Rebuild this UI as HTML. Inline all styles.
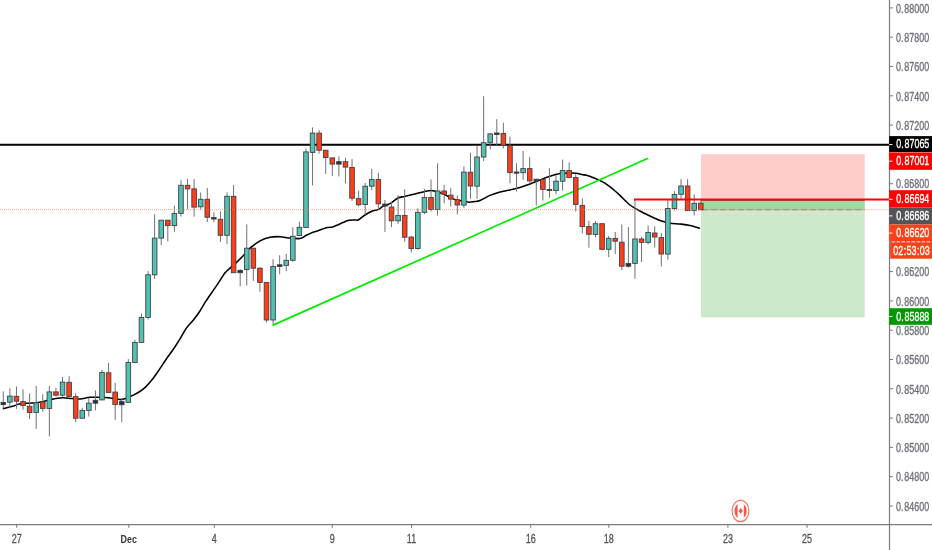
<!DOCTYPE html>
<html><head><meta charset="utf-8"><title>EURGBP chart</title>
<style>
html,body{margin:0;padding:0;background:#fff;overflow:hidden;}
svg{display:block;will-change:transform;}
.w{stroke:#6f7177;stroke-width:1;}
.b{stroke:#3f4147;stroke-width:0.9;}
.tk{stroke:#787b86;stroke-width:1;}
.pl{font-family:"Liberation Sans",Arial,sans-serif;font-size:12px;fill:#6f727c;stroke:#6f727c;stroke-width:0.35px;}
.tl{font-family:"Liberation Sans",Arial,sans-serif;font-size:12px;fill:#50535c;stroke:#50535c;stroke-width:0.3px;text-anchor:middle;}
.tlb{font-family:"Liberation Sans",Arial,sans-serif;font-size:11.3px;fill:#363940;font-weight:bold;text-anchor:middle;}
</style></head>
<body>
<svg width="932" height="550" viewBox="0 0 932 550">
<rect width="932" height="550" fill="#ffffff"/>
<!-- position tool -->
<rect x="701" y="154.2" width="163.7" height="45.1" fill="#ffcccc"/>
<rect x="701" y="199.3" width="163.7" height="118.1" fill="#cde9cb"/>
<rect x="701" y="200.3" width="163.7" height="9.3" fill="#a2d9a0"/>
<!-- horizontal black line -->
<line x1="0" y1="144.8" x2="890" y2="144.8" stroke="#000" stroke-width="2"/>
<line x1="701" y1="209.7" x2="864.7" y2="209.7" stroke="#c4aaa4" stroke-width="1.3"/>
<line x1="701" y1="209.7" x2="864.7" y2="209.7" stroke="#d8524a" stroke-width="1.3" stroke-dasharray="1 1 1 1 1 4" stroke-dashoffset="-1.5"/>
<line x1="864.7" y1="209.7" x2="890" y2="209.7" stroke="#ff7a55" stroke-width="1" stroke-dasharray="1 1" opacity="0.7"/>
<line x1="701" y1="200.5" x2="864.7" y2="200.5" stroke="#6e6e6e" stroke-width="1"/>
<!-- MA -->
<path d="M2.8,408.8 C4.45,408.38 10,407.08 12.7,406.3 C15.4,405.52 16.88,404.6 19,404.1 C21.12,403.6 23.27,403.47 25.4,403.3 C27.53,403.13 29.67,403.25 31.8,403.1 C33.93,402.95 36.08,402.72 38.2,402.4 C40.32,402.08 42.38,401.68 44.5,401.2 C46.62,400.72 48.77,400 50.9,399.5 C53.03,399 55.18,398.5 57.3,398.2 C59.42,397.9 61.15,397.63 63.6,397.7 C66.05,397.77 69.27,398.38 72,398.6 C74.73,398.82 77,399.22 80,399 C83,398.78 86.67,397.58 90,397.3 C93.33,397.02 96.67,397.18 100,397.3 C103.33,397.42 106.67,397.62 110,398 C113.33,398.38 117.27,399.55 120,399.6 C122.73,399.65 124.28,399 126.4,398.3 C128.52,397.6 130.58,396.45 132.7,395.4 C134.82,394.35 136.97,393.38 139.1,392 C141.23,390.62 143.38,389.08 145.5,387.1 C147.62,385.12 149.68,382.75 151.8,380.1 C153.92,377.45 155.83,374.63 158.2,371.2 C160.57,367.77 163.33,363.37 166,359.5 C168.67,355.63 171.92,351.37 174.2,348 C176.48,344.63 177.7,342.57 179.7,339.3 C181.7,336.03 184.02,331.5 186.2,328.4 C188.38,325.3 190.62,323.43 192.8,320.7 C194.98,317.97 197.12,315.27 199.3,312 C201.48,308.73 203.05,305.45 205.9,301.1 C208.75,296.75 213.2,290.62 216.4,285.9 C219.6,281.18 222.92,275.68 225.1,272.8 C227.28,269.92 227.68,270.25 229.5,268.6 C231.32,266.95 233.63,265.12 236,262.9 C238.37,260.68 241.7,257.48 243.7,255.3 C245.7,253.12 245.28,252.2 248,249.8 C250.72,247.4 256.33,242.98 260,240.9 C263.67,238.82 266.67,238 270,237.3 C273.33,236.6 276.67,236.57 280,236.7 C283.33,236.83 286.67,237.8 290,238.1 C293.33,238.4 297.42,238.88 300,238.5 C302.58,238.12 303.68,236.7 305.5,235.8 C307.32,234.9 309.08,233.87 310.9,233.1 C312.72,232.33 314.58,231.83 316.4,231.2 C318.22,230.57 319.98,229.9 321.8,229.3 C323.62,228.7 325.48,228 327.3,227.6 C329.12,227.2 330.88,227.38 332.7,226.9 C334.52,226.42 336.38,225.48 338.2,224.7 C340.02,223.92 341.78,222.93 343.6,222.2 C345.42,221.47 347.28,220.67 349.1,220.3 C350.92,219.93 352.98,220.05 354.5,220 C356.02,219.95 357.03,220.42 358.2,220 C359.37,219.58 360.23,218.42 361.5,217.5 C362.77,216.58 364.08,215.53 365.8,214.5 C367.52,213.47 369.98,212.07 371.8,211.3 C373.62,210.53 375.42,210.32 376.7,209.9 C377.98,209.48 378.4,209.43 379.5,208.8 C380.6,208.17 381.95,206.78 383.3,206.1 C384.65,205.42 386.15,205.32 387.6,204.7 C389.05,204.08 390.27,203.52 392,202.4 C393.73,201.28 395.92,199 398,198 C400.08,197 401.87,197.02 404.5,196.4 C407.13,195.78 410.52,195.08 413.8,194.3 C417.08,193.52 421.33,192.33 424.2,191.7 C427.07,191.07 428.97,190.52 431,190.5 C433.03,190.48 434.6,191.12 436.4,191.6 C438.2,192.08 439.98,192.67 441.8,193.4 C443.62,194.13 445.48,195.13 447.3,196 C449.12,196.87 450.88,197.88 452.7,198.6 C454.52,199.32 456.38,199.88 458.2,200.3 C460.02,200.72 461.78,200.78 463.6,201.1 C465.42,201.42 467.28,202.12 469.1,202.2 C470.92,202.28 472.68,201.88 474.5,201.6 C476.32,201.32 477.42,201.53 480,200.5 C482.58,199.47 486.67,196.82 490,195.4 C493.33,193.98 496.67,192.92 500,192 C503.33,191.08 506.67,190.67 510,189.9 C513.33,189.13 516.67,188.37 520,187.4 C523.33,186.43 526.67,185.33 530,184.1 C533.33,182.87 536.67,181.3 540,180 C543.33,178.7 546.67,177.37 550,176.3 C553.33,175.23 557.42,174.1 560,173.6 C562.58,173.1 563.68,173.38 565.5,173.3 C567.32,173.22 569.08,173.1 570.9,173.1 C572.72,173.1 574.58,173.07 576.4,173.3 C578.22,173.53 579.98,174.13 581.8,174.5 C583.62,174.87 585.48,175.02 587.3,175.5 C589.12,175.98 590.88,176.72 592.7,177.4 C594.52,178.08 596.38,178.77 598.2,179.6 C600.02,180.43 601.78,181.3 603.6,182.4 C605.42,183.5 607.28,184.85 609.1,186.2 C610.92,187.55 612.68,188.97 614.5,190.5 C616.32,192.03 617.42,192.98 620,195.4 C622.58,197.82 626.67,202.4 630,205 C633.33,207.6 636.67,209.17 640,211 C643.33,212.83 646.67,214.42 650,216 C653.33,217.58 656.67,219.3 660,220.5 C663.33,221.7 666.67,222.62 670,223.2 C673.33,223.78 676.67,223.63 680,224 C683.33,224.37 686.67,224.68 690,225.4 C693.33,226.12 698.33,227.82 700,228.3" fill="none" stroke="#000" stroke-width="1.55" stroke-linejoin="round"/>
<!-- trendline -->
<line x1="273.1" y1="325.1" x2="647.5" y2="158.5" stroke="#00ea00" stroke-width="1.7" stroke-linecap="round"/>
<!-- candles -->
<line x1="3.3" y1="391.4" x2="3.3" y2="408.2" class="w"/>
<rect x="1" y="402.4" width="4.6" height="2.2" fill="#2a2c31" class="b"/>
<line x1="9.88" y1="388.4" x2="9.88" y2="408.2" class="w"/>
<rect x="7.58" y="396.1" width="4.6" height="6" fill="#53c1b2" class="b"/>
<line x1="16.46" y1="386.5" x2="16.46" y2="408.8" class="w"/>
<rect x="14.16" y="396.3" width="4.6" height="4.9" fill="#ff3d17" class="b"/>
<line x1="23.04" y1="389.3" x2="23.04" y2="409.7" class="w"/>
<rect x="20.74" y="401.6" width="4.6" height="4" fill="#ff3d17" class="b"/>
<line x1="29.62" y1="393.5" x2="29.62" y2="419" class="w"/>
<rect x="27.32" y="406.3" width="4.6" height="6.3" fill="#ff3d17" class="b"/>
<line x1="36.2" y1="385.9" x2="36.2" y2="428.8" class="w"/>
<rect x="33.9" y="402.8" width="4.6" height="9.6" fill="#53c1b2" class="b"/>
<line x1="42.78" y1="394.2" x2="42.78" y2="411.7" class="w"/>
<rect x="40.48" y="402" width="4.6" height="6.4" fill="#ff3d17" class="b"/>
<line x1="49.36" y1="385.9" x2="49.36" y2="436.4" class="w"/>
<rect x="47.06" y="391.9" width="4.6" height="16.5" fill="#53c1b2" class="b"/>
<line x1="55.94" y1="387.8" x2="55.94" y2="396.5" class="w"/>
<rect x="53.64" y="391.9" width="4.6" height="3.3" fill="#ff3d17" class="b"/>
<line x1="62.52" y1="377" x2="62.52" y2="396.7" class="w"/>
<rect x="60.22" y="382.1" width="4.6" height="13.1" fill="#53c1b2" class="b"/>
<line x1="69.1" y1="376.2" x2="69.1" y2="396.4" class="w"/>
<rect x="66.8" y="382.3" width="4.6" height="14.1" fill="#ff3d17" class="b"/>
<line x1="75.68" y1="393.4" x2="75.68" y2="422.2" class="w"/>
<rect x="73.38" y="396.6" width="4.6" height="21.6" fill="#ff3d17" class="b"/>
<line x1="82.26" y1="407.8" x2="82.26" y2="418.2" class="w"/>
<rect x="79.96" y="410.4" width="4.6" height="7.8" fill="#53c1b2" class="b"/>
<line x1="88.84" y1="398" x2="88.84" y2="416.5" class="w"/>
<rect x="86.54" y="403.2" width="4.6" height="7.2" fill="#53c1b2" class="b"/>
<line x1="95.42" y1="390.4" x2="95.42" y2="410.4" class="w"/>
<rect x="93.12" y="400.3" width="4.6" height="2.9" fill="#2a2c31" class="b"/>
<line x1="102" y1="369.8" x2="102" y2="399.9" class="w"/>
<rect x="99.7" y="372.4" width="4.6" height="27.5" fill="#53c1b2" class="b"/>
<line x1="108.58" y1="362.9" x2="108.58" y2="392.5" class="w"/>
<rect x="106.28" y="372.8" width="4.6" height="19.7" fill="#ff3d17" class="b"/>
<line x1="115.16" y1="382.9" x2="115.16" y2="420.2" class="w"/>
<rect x="112.86" y="392.1" width="4.6" height="12.4" fill="#ff3d17" class="b"/>
<line x1="121.74" y1="398" x2="121.74" y2="422.2" class="w"/>
<rect x="119.44" y="401.6" width="4.6" height="3.2" fill="#2a2c31" class="b"/>
<line x1="128.32" y1="359" x2="128.32" y2="402.4" class="w"/>
<rect x="126.02" y="362.4" width="4.6" height="40" fill="#53c1b2" class="b"/>
<line x1="134.9" y1="339.6" x2="134.9" y2="362.5" class="w"/>
<rect x="132.6" y="342.4" width="4.6" height="20.1" fill="#53c1b2" class="b"/>
<line x1="141.48" y1="313.7" x2="141.48" y2="343" class="w"/>
<rect x="139.18" y="317.4" width="4.6" height="25" fill="#53c1b2" class="b"/>
<line x1="148.06" y1="271.1" x2="148.06" y2="319.5" class="w"/>
<rect x="145.76" y="274.8" width="4.6" height="42.6" fill="#53c1b2" class="b"/>
<line x1="154.64" y1="214.4" x2="154.64" y2="279" class="w"/>
<rect x="152.34" y="238.1" width="4.6" height="36.7" fill="#53c1b2" class="b"/>
<line x1="161.22" y1="220" x2="161.22" y2="245" class="w"/>
<rect x="158.92" y="220.2" width="4.6" height="17.9" fill="#53c1b2" class="b"/>
<line x1="167.8" y1="220" x2="167.8" y2="241.3" class="w"/>
<rect x="165.5" y="220.2" width="4.6" height="5.4" fill="#ff3d17" class="b"/>
<line x1="174.38" y1="205.7" x2="174.38" y2="231.9" class="w"/>
<rect x="172.08" y="213.4" width="4.6" height="12.2" fill="#53c1b2" class="b"/>
<line x1="180.96" y1="180.2" x2="180.96" y2="216.6" class="w"/>
<rect x="178.66" y="185.3" width="4.6" height="28.1" fill="#53c1b2" class="b"/>
<line x1="187.54" y1="179" x2="187.54" y2="209.3" class="w"/>
<rect x="185.24" y="185.3" width="4.6" height="3.6" fill="#ff3d17" class="b"/>
<line x1="194.12" y1="179" x2="194.12" y2="216.6" class="w"/>
<rect x="191.82" y="188.9" width="4.6" height="18.2" fill="#ff3d17" class="b"/>
<line x1="200.7" y1="192.5" x2="200.7" y2="209.5" class="w"/>
<rect x="198.4" y="199.3" width="4.6" height="7.5" fill="#53c1b2" class="b"/>
<line x1="207.28" y1="188" x2="207.28" y2="222" class="w"/>
<rect x="204.98" y="199.3" width="4.6" height="17.9" fill="#ff3d17" class="b"/>
<line x1="213.86" y1="212.3" x2="213.86" y2="222.2" class="w"/>
<rect x="211.56" y="217.6" width="4.6" height="1.4" fill="#2a2c31" class="b"/>
<line x1="220.44" y1="211.3" x2="220.44" y2="241.9" class="w"/>
<rect x="218.14" y="219.3" width="4.6" height="16" fill="#ff3d17" class="b"/>
<line x1="227.02" y1="192.4" x2="227.02" y2="244" class="w"/>
<rect x="224.72" y="196.3" width="4.6" height="39" fill="#53c1b2" class="b"/>
<line x1="233.6" y1="185.1" x2="233.6" y2="272.7" class="w"/>
<rect x="231.3" y="196.3" width="4.6" height="76.4" fill="#ff3d17" class="b"/>
<line x1="240.18" y1="269" x2="240.18" y2="286.4" class="w"/>
<rect x="237.88" y="270.4" width="4.6" height="2.3" fill="#2a2c31" class="b"/>
<line x1="246.76" y1="224.4" x2="246.76" y2="285.5" class="w"/>
<rect x="244.46" y="248.2" width="4.6" height="21.4" fill="#53c1b2" class="b"/>
<line x1="253.34" y1="248.2" x2="253.34" y2="280.9" class="w"/>
<rect x="251.04" y="248.2" width="4.6" height="20" fill="#ff3d17" class="b"/>
<line x1="259.92" y1="267.3" x2="259.92" y2="291.8" class="w"/>
<rect x="257.62" y="268.2" width="4.6" height="14.2" fill="#ff3d17" class="b"/>
<line x1="266.5" y1="282.4" x2="266.5" y2="322.5" class="w"/>
<rect x="264.2" y="282.4" width="4.6" height="37.6" fill="#ff3d17" class="b"/>
<line x1="273.08" y1="259.1" x2="273.08" y2="324" class="w"/>
<rect x="270.78" y="266.4" width="4.6" height="53.6" fill="#53c1b2" class="b"/>
<line x1="279.66" y1="255.3" x2="279.66" y2="274.3" class="w"/>
<rect x="277.36" y="264.8" width="4.6" height="1.7" fill="#2a2c31" class="b"/>
<line x1="286.24" y1="253.8" x2="286.24" y2="271.2" class="w"/>
<rect x="283.94" y="260.3" width="4.6" height="5.1" fill="#53c1b2" class="b"/>
<line x1="292.82" y1="227.3" x2="292.82" y2="261.8" class="w"/>
<rect x="290.52" y="236.3" width="4.6" height="24" fill="#53c1b2" class="b"/>
<line x1="299.4" y1="221.8" x2="299.4" y2="235.5" class="w"/>
<rect x="297.1" y="227.3" width="4.6" height="8.2" fill="#53c1b2" class="b"/>
<line x1="305.98" y1="148.6" x2="305.98" y2="227.5" class="w"/>
<rect x="303.68" y="151.9" width="4.6" height="75.6" fill="#53c1b2" class="b"/>
<line x1="312.56" y1="127.4" x2="312.56" y2="185.4" class="w"/>
<rect x="310.26" y="133.1" width="4.6" height="19.3" fill="#53c1b2" class="b"/>
<line x1="319.14" y1="130.1" x2="319.14" y2="153.5" class="w"/>
<rect x="316.84" y="133.1" width="4.6" height="17.1" fill="#ff3d17" class="b"/>
<line x1="325.72" y1="150.2" x2="325.72" y2="174" class="w"/>
<rect x="323.42" y="150.2" width="4.6" height="7.4" fill="#ff3d17" class="b"/>
<line x1="332.3" y1="157.9" x2="332.3" y2="175.9" class="w"/>
<rect x="330" y="157.9" width="4.6" height="6.2" fill="#ff3d17" class="b"/>
<line x1="338.88" y1="156.3" x2="338.88" y2="176.4" class="w"/>
<rect x="336.58" y="161.7" width="4.6" height="2.4" fill="#2a2c31" class="b"/>
<line x1="345.46" y1="157.9" x2="345.46" y2="183.4" class="w"/>
<rect x="343.16" y="161.7" width="4.6" height="5.4" fill="#ff3d17" class="b"/>
<line x1="352.04" y1="159.2" x2="352.04" y2="200.9" class="w"/>
<rect x="349.74" y="167.4" width="4.6" height="30.8" fill="#ff3d17" class="b"/>
<line x1="358.62" y1="190.7" x2="358.62" y2="206.6" class="w"/>
<rect x="356.32" y="198.6" width="4.6" height="6.2" fill="#ff3d17" class="b"/>
<line x1="365.2" y1="182.9" x2="365.2" y2="214.8" class="w"/>
<rect x="362.9" y="186.2" width="4.6" height="18.3" fill="#53c1b2" class="b"/>
<line x1="371.78" y1="169" x2="371.78" y2="190.2" class="w"/>
<rect x="369.48" y="179.6" width="4.6" height="6.6" fill="#53c1b2" class="b"/>
<line x1="378.36" y1="172.8" x2="378.36" y2="208.2" class="w"/>
<rect x="376.06" y="179.6" width="4.6" height="24.2" fill="#ff3d17" class="b"/>
<line x1="384.94" y1="200" x2="384.94" y2="231.9" class="w"/>
<rect x="382.64" y="204.1" width="4.6" height="2" fill="#2a2c31" class="b"/>
<line x1="391.52" y1="201.7" x2="391.52" y2="227" class="w"/>
<rect x="389.22" y="207.1" width="4.6" height="13.7" fill="#ff3d17" class="b"/>
<line x1="398.1" y1="195.1" x2="398.1" y2="223.8" class="w"/>
<rect x="395.8" y="215.4" width="4.6" height="5.4" fill="#53c1b2" class="b"/>
<line x1="404.68" y1="189.4" x2="404.68" y2="241.7" class="w"/>
<rect x="402.38" y="215.4" width="4.6" height="21.8" fill="#ff3d17" class="b"/>
<line x1="411.26" y1="236" x2="411.26" y2="252.4" class="w"/>
<rect x="408.96" y="237.1" width="4.6" height="11.4" fill="#ff3d17" class="b"/>
<line x1="417.84" y1="208.2" x2="417.84" y2="249.7" class="w"/>
<rect x="415.54" y="212.3" width="4.6" height="36.2" fill="#53c1b2" class="b"/>
<line x1="424.42" y1="188.8" x2="424.42" y2="214.1" class="w"/>
<rect x="422.12" y="197.4" width="4.6" height="14.9" fill="#53c1b2" class="b"/>
<line x1="431" y1="179.5" x2="431" y2="211.5" class="w"/>
<rect x="428.7" y="197.5" width="4.6" height="11.9" fill="#ff3d17" class="b"/>
<line x1="437.58" y1="163.3" x2="437.58" y2="215.6" class="w"/>
<rect x="435.28" y="191" width="4.6" height="18.4" fill="#53c1b2" class="b"/>
<line x1="444.16" y1="185" x2="444.16" y2="203.3" class="w"/>
<rect x="441.86" y="191" width="4.6" height="3.1" fill="#ff3d17" class="b"/>
<line x1="450.74" y1="188" x2="450.74" y2="206.5" class="w"/>
<rect x="448.44" y="195.2" width="4.6" height="3.9" fill="#ff3d17" class="b"/>
<line x1="457.32" y1="195.3" x2="457.32" y2="214.5" class="w"/>
<rect x="455.02" y="199.8" width="4.6" height="5.2" fill="#ff3d17" class="b"/>
<line x1="463.9" y1="166.3" x2="463.9" y2="207.9" class="w"/>
<rect x="461.6" y="172.1" width="4.6" height="33" fill="#53c1b2" class="b"/>
<line x1="470.48" y1="152.9" x2="470.48" y2="198.8" class="w"/>
<rect x="468.18" y="172.2" width="4.6" height="13.8" fill="#ff3d17" class="b"/>
<line x1="477.06" y1="145.5" x2="477.06" y2="198.7" class="w"/>
<rect x="474.76" y="157" width="4.6" height="29.2" fill="#53c1b2" class="b"/>
<line x1="483.64" y1="96.2" x2="483.64" y2="161.1" class="w"/>
<rect x="481.34" y="142.7" width="4.6" height="14.3" fill="#53c1b2" class="b"/>
<line x1="490.22" y1="133.3" x2="490.22" y2="149.4" class="w"/>
<rect x="487.92" y="133.9" width="4.6" height="8.8" fill="#53c1b2" class="b"/>
<line x1="496.8" y1="119.1" x2="496.8" y2="145.2" class="w"/>
<rect x="494.5" y="133" width="4.6" height="1.5" fill="#2a2c31" class="b"/>
<line x1="503.38" y1="122.7" x2="503.38" y2="148.3" class="w"/>
<rect x="501.08" y="133.4" width="4.6" height="11.9" fill="#ff3d17" class="b"/>
<line x1="509.96" y1="136.6" x2="509.96" y2="183.3" class="w"/>
<rect x="507.66" y="145.6" width="4.6" height="27" fill="#ff3d17" class="b"/>
<line x1="516.54" y1="163.2" x2="516.54" y2="191.5" class="w"/>
<rect x="514.24" y="172" width="4.6" height="1.2" fill="#2a2c31" class="b"/>
<line x1="523.12" y1="151" x2="523.12" y2="180" class="w"/>
<rect x="520.82" y="168.6" width="4.6" height="4.1" fill="#53c1b2" class="b"/>
<line x1="529.7" y1="157.1" x2="529.7" y2="183.8" class="w"/>
<rect x="527.4" y="168.6" width="4.6" height="12.3" fill="#ff3d17" class="b"/>
<line x1="536.28" y1="178.9" x2="536.28" y2="205.4" class="w"/>
<rect x="533.98" y="179.2" width="4.6" height="1.3" fill="#2a2c31" class="b"/>
<line x1="542.86" y1="179.2" x2="542.86" y2="200.5" class="w"/>
<rect x="540.56" y="179.6" width="4.6" height="9.8" fill="#ff3d17" class="b"/>
<line x1="549.44" y1="168.1" x2="549.44" y2="197.7" class="w"/>
<rect x="547.14" y="189.4" width="4.6" height="1.2" fill="#2a2c31" class="b"/>
<line x1="556.02" y1="174.5" x2="556.02" y2="194.3" class="w"/>
<rect x="553.72" y="181.2" width="4.6" height="9.4" fill="#53c1b2" class="b"/>
<line x1="562.6" y1="159.6" x2="562.6" y2="190.6" class="w"/>
<rect x="560.3" y="170.5" width="4.6" height="10.7" fill="#53c1b2" class="b"/>
<line x1="569.18" y1="162.4" x2="569.18" y2="177.6" class="w"/>
<rect x="566.88" y="170.5" width="4.6" height="7.1" fill="#ff3d17" class="b"/>
<line x1="575.76" y1="174.3" x2="575.76" y2="211.4" class="w"/>
<rect x="573.46" y="177.6" width="4.6" height="26.8" fill="#ff3d17" class="b"/>
<line x1="582.34" y1="198.3" x2="582.34" y2="233.5" class="w"/>
<rect x="580.04" y="205.4" width="4.6" height="21.2" fill="#ff3d17" class="b"/>
<line x1="588.92" y1="220.9" x2="588.92" y2="247.7" class="w"/>
<rect x="586.62" y="226.6" width="4.6" height="7.7" fill="#ff3d17" class="b"/>
<line x1="595.5" y1="220.9" x2="595.5" y2="237.4" class="w"/>
<rect x="593.2" y="223.7" width="4.6" height="10.7" fill="#53c1b2" class="b"/>
<line x1="602.08" y1="223.7" x2="602.08" y2="250.3" class="w"/>
<rect x="599.78" y="223.7" width="4.6" height="25.6" fill="#ff3d17" class="b"/>
<line x1="608.66" y1="236" x2="608.66" y2="257.2" class="w"/>
<rect x="606.36" y="238.3" width="4.6" height="11" fill="#53c1b2" class="b"/>
<line x1="615.24" y1="231.9" x2="615.24" y2="253.9" class="w"/>
<rect x="612.94" y="238.4" width="4.6" height="2.8" fill="#ff3d17" class="b"/>
<line x1="621.82" y1="224.5" x2="621.82" y2="270.3" class="w"/>
<rect x="619.52" y="242.2" width="4.6" height="24" fill="#ff3d17" class="b"/>
<line x1="628.4" y1="227" x2="628.4" y2="267.8" class="w"/>
<rect x="626.1" y="263.4" width="4.6" height="2.8" fill="#2a2c31" class="b"/>
<line x1="634.98" y1="199.4" x2="634.98" y2="278.8" class="w"/>
<rect x="632.68" y="239" width="4.6" height="24.4" fill="#53c1b2" class="b"/>
<line x1="641.56" y1="237" x2="641.56" y2="262" class="w"/>
<rect x="639.26" y="239" width="4.6" height="3.4" fill="#ff3d17" class="b"/>
<line x1="648.14" y1="225.5" x2="648.14" y2="244.4" class="w"/>
<rect x="645.84" y="232.4" width="4.6" height="10" fill="#53c1b2" class="b"/>
<line x1="654.72" y1="226.4" x2="654.72" y2="247.6" class="w"/>
<rect x="652.42" y="233" width="4.6" height="4" fill="#ff3d17" class="b"/>
<line x1="661.3" y1="233" x2="661.3" y2="266.4" class="w"/>
<rect x="659" y="237.6" width="4.6" height="16.4" fill="#ff3d17" class="b"/>
<line x1="667.88" y1="200.2" x2="667.88" y2="259.6" class="w"/>
<rect x="665.58" y="208.5" width="4.6" height="45.5" fill="#53c1b2" class="b"/>
<line x1="674.46" y1="191.2" x2="674.46" y2="210.6" class="w"/>
<rect x="672.16" y="194.4" width="4.6" height="14.1" fill="#53c1b2" class="b"/>
<line x1="681.04" y1="179.2" x2="681.04" y2="199.9" class="w"/>
<rect x="678.74" y="186" width="4.6" height="8.3" fill="#53c1b2" class="b"/>
<line x1="687.62" y1="179.2" x2="687.62" y2="210.6" class="w"/>
<rect x="685.32" y="186" width="4.6" height="24.6" fill="#ff3d17" class="b"/>
<line x1="694.2" y1="194.3" x2="694.2" y2="215.5" class="w"/>
<rect x="691.9" y="203.3" width="4.6" height="7.1" fill="#53c1b2" class="b"/>
<line x1="700.78" y1="200.4" x2="700.78" y2="209.8" class="w"/>
<rect x="698.48" y="203.2" width="4.6" height="6.6" fill="#ff3d17" class="b"/>
<!-- current price dotted -->
<line x1="0" y1="209.7" x2="701" y2="209.7" stroke="#ff7a55" stroke-width="1" stroke-dasharray="1 1" opacity="0.7"/>
<!-- red level -->
<line x1="634" y1="199.4" x2="890" y2="199.4" stroke="#ff0000" stroke-width="2"/>
<!-- axes -->
<line x1="889.5" y1="0" x2="889.5" y2="550" stroke="#787b86" stroke-width="1.2"/>
<line x1="0" y1="524.6" x2="932" y2="524.6" stroke="#787b86" stroke-width="1.2"/>
<line x1="890" y1="7.9" x2="893" y2="7.9" class="tk"/>
<line x1="890" y1="37.2" x2="893" y2="37.2" class="tk"/>
<line x1="890" y1="66.5" x2="893" y2="66.5" class="tk"/>
<line x1="890" y1="95.8" x2="893" y2="95.8" class="tk"/>
<line x1="890" y1="125.1" x2="893" y2="125.1" class="tk"/>
<line x1="890" y1="154.4" x2="893" y2="154.4" class="tk"/>
<line x1="890" y1="183.7" x2="893" y2="183.7" class="tk"/>
<line x1="890" y1="213" x2="893" y2="213" class="tk"/>
<line x1="890" y1="242.3" x2="893" y2="242.3" class="tk"/>
<line x1="890" y1="271.6" x2="893" y2="271.6" class="tk"/>
<line x1="890" y1="300.9" x2="893" y2="300.9" class="tk"/>
<line x1="890" y1="330.2" x2="893" y2="330.2" class="tk"/>
<line x1="890" y1="359.5" x2="893" y2="359.5" class="tk"/>
<line x1="890" y1="388.8" x2="893" y2="388.8" class="tk"/>
<line x1="890" y1="418.1" x2="893" y2="418.1" class="tk"/>
<line x1="890" y1="447.4" x2="893" y2="447.4" class="tk"/>
<line x1="890" y1="476.7" x2="893" y2="476.7" class="tk"/>
<line x1="890" y1="506" x2="893" y2="506" class="tk"/>
<text transform="translate(896,12.65) scale(0.745,1)" class="pl">0.<tspan dx="1.1">88000</tspan></text>
<text transform="translate(896,41.95) scale(0.745,1)" class="pl">0.<tspan dx="1.1">87800</tspan></text>
<text transform="translate(896,71.25) scale(0.745,1)" class="pl">0.<tspan dx="1.1">87600</tspan></text>
<text transform="translate(896,100.55) scale(0.745,1)" class="pl">0.<tspan dx="1.1">87400</tspan></text>
<text transform="translate(896,129.85) scale(0.745,1)" class="pl">0.<tspan dx="1.1">87200</tspan></text>
<text transform="translate(896,188.45) scale(0.745,1)" class="pl">0.<tspan dx="1.1">86800</tspan></text>
<text transform="translate(896,276.35) scale(0.745,1)" class="pl">0.<tspan dx="1.1">86200</tspan></text>
<text transform="translate(896,305.65) scale(0.745,1)" class="pl">0.<tspan dx="1.1">86000</tspan></text>
<text transform="translate(896,334.95) scale(0.745,1)" class="pl">0.<tspan dx="1.1">85800</tspan></text>
<text transform="translate(896,364.25) scale(0.745,1)" class="pl">0.<tspan dx="1.1">85600</tspan></text>
<text transform="translate(896,393.55) scale(0.745,1)" class="pl">0.<tspan dx="1.1">85400</tspan></text>
<text transform="translate(896,422.85) scale(0.745,1)" class="pl">0.<tspan dx="1.1">85200</tspan></text>
<text transform="translate(896,452.15) scale(0.745,1)" class="pl">0.<tspan dx="1.1">85000</tspan></text>
<text transform="translate(896,481.45) scale(0.745,1)" class="pl">0.<tspan dx="1.1">84800</tspan></text>
<text transform="translate(896,510.75) scale(0.745,1)" class="pl">0.<tspan dx="1.1">84600</tspan></text>
<rect x="889.2" y="136.1" width="43" height="15.9" fill="#000000"/>
<line x1="889.2" y1="144.6" x2="892.5" y2="144.6" stroke="#ffffff" stroke-width="1"/>
<text transform="translate(896.2,148.35) scale(0.745,1)" class="pl" style="fill:#ffffff;stroke:#ffffff">0.<tspan dx="1.1">87065</tspan></text>
<rect x="889.2" y="152.4" width="43" height="17.4" fill="#ff0000"/>
<line x1="889.2" y1="161.2" x2="892.5" y2="161.2" stroke="#ffffff" stroke-width="1"/>
<text transform="translate(896.2,165.4) scale(0.745,1)" class="pl" style="fill:#ffffff;stroke:#ffffff">0.<tspan dx="1.1">87001</tspan></text>
<rect x="889.2" y="190.2" width="43" height="17.3" fill="#ff0000"/>
<line x1="889.2" y1="199.3" x2="892.5" y2="199.3" stroke="#ffffff" stroke-width="1"/>
<text transform="translate(896.2,203.15) scale(0.745,1)" class="pl" style="fill:#ffffff;stroke:#ffffff">0.<tspan dx="1.1">86694</tspan></text>
<rect x="889.2" y="207.5" width="43" height="17" fill="#535457"/>
<line x1="889.2" y1="215.9" x2="892.5" y2="215.9" stroke="#ffffff" stroke-width="1"/>
<text transform="translate(896.2,220.3) scale(0.745,1)" class="pl" style="fill:#ffffff;stroke:#ffffff">0.<tspan dx="1.1">86686</tspan></text>
<rect x="889.2" y="224.5" width="43" height="16.9" fill="#ff4119"/>
<line x1="889.2" y1="233.1" x2="892.5" y2="233.1" stroke="#ffffff" stroke-width="1"/>
<text transform="translate(896.2,237.25) scale(0.745,1)" class="pl" style="fill:#ffffff;stroke:#ffffff">0.<tspan dx="1.1">86620</tspan></text>
<rect x="889.2" y="308.2" width="43" height="16.6" fill="#009900"/>
<line x1="889.2" y1="316.5" x2="892.5" y2="316.5" stroke="#ffffff" stroke-width="1"/>
<text transform="translate(896.2,320.8) scale(0.745,1)" class="pl" style="fill:#ffffff;stroke:#ffffff">0.<tspan dx="1.1">85888</tspan></text>
<rect x="890.1" y="241.4" width="42" height="17.3" fill="#ff4119"/>
<line x1="890.1" y1="241.9" x2="932" y2="241.9" stroke="#ffb3a3" stroke-width="1.2"/>
<line x1="890.1" y1="241.9" x2="932" y2="241.9" stroke="#7a4a42" stroke-width="1.2" stroke-dasharray="1.5 3.5"/>
<text transform="translate(893.3,254.6) scale(0.75,1)" class="pl" style="fill:#fff;stroke:#fff">02<tspan dx="0.5">:</tspan><tspan dx="0.5">53</tspan><tspan dx="0.5">:</tspan><tspan dx="0.5">03</tspan></text>
<line x1="16.7" y1="525" x2="16.7" y2="527.8" class="tk"/>
<text transform="translate(16.7,543) scale(0.75,1)" class="tl">27</text>
<line x1="128.8" y1="525" x2="128.8" y2="527.8" class="tk"/>
<text transform="translate(128.8,543) scale(0.79,1)" class="tlb">Dec</text>
<line x1="214.3" y1="525" x2="214.3" y2="527.8" class="tk"/>
<text transform="translate(214.3,543) scale(0.75,1)" class="tl">4</text>
<line x1="332.2" y1="525" x2="332.2" y2="527.8" class="tk"/>
<text transform="translate(332.2,543) scale(0.75,1)" class="tl">9</text>
<line x1="411.5" y1="525" x2="411.5" y2="527.8" class="tk"/>
<text transform="translate(411.5,543) scale(0.75,1)" class="tl">11</text>
<line x1="530.7" y1="525" x2="530.7" y2="527.8" class="tk"/>
<text transform="translate(530.7,543) scale(0.75,1)" class="tl">16</text>
<line x1="608.8" y1="525" x2="608.8" y2="527.8" class="tk"/>
<text transform="translate(608.8,543) scale(0.75,1)" class="tl">18</text>
<line x1="727.9" y1="525" x2="727.9" y2="527.8" class="tk"/>
<text transform="translate(727.9,543) scale(0.75,1)" class="tl">23</text>
<line x1="807" y1="525" x2="807" y2="527.8" class="tk"/>
<text transform="translate(807,543) scale(0.75,1)" class="tl">25</text>
<!-- event icon -->
<defs><clipPath id="fc"><ellipse cx="740.6" cy="511" rx="6.1" ry="7.9"/></clipPath></defs>
<ellipse cx="740.5" cy="511" rx="8.4" ry="10.7" fill="#fff" stroke="#f86e5a" stroke-width="1.1"/>
<g clip-path="url(#fc)" fill="#f3574a">
<rect x="733" y="502" width="4.6" height="18"/>
<rect x="743.8" y="502" width="4.6" height="18"/>
</g>
<path d="M740.7 508 L742.9 510.9 L740.7 513.7 L738.5 510.9 Z" fill="#f3574a"/>
</svg>
</body></html>
